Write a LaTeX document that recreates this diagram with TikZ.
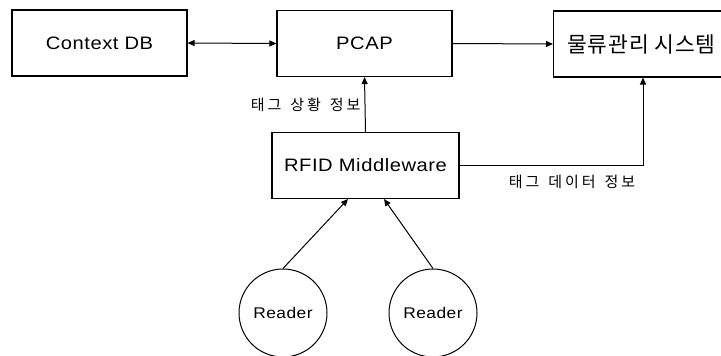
\documentclass[tikz,border=0pt]{standalone}
\usepackage{fontspec}
\setmainfont[FakeStretch=1.12,LetterSpace=3]{Liberation Sans}
\newfontfamily\kr[LetterSpace=4]{Noto Sans CJK KR}
\newfontfamily\krsp[LetterSpace=20,WordSpace=1.4]{Noto Sans CJK KR}
\usetikzlibrary{arrows.meta}
\begin{document}
\begin{tikzpicture}[x=1pt,y=-1pt,
  box/.style={draw,line width=1.1pt,minimum height=66pt,inner sep=0pt,font=\fontsize{18}{20}\selectfont},
  rd/.style={draw,circle,line width=1pt,minimum size=88pt,inner sep=0pt,font=\fontsize{15.5}{17}\selectfont},
  conn/.style={line width=1pt,-{Triangle[length=7pt,width=6pt]}},
  lbl/.style={inner sep=0pt,font=\krsp\fontsize{15}{17}\selectfont}]
\useasboundingbox (0,0) rectangle (721,356);
\node[box,minimum width=175pt] (ctx) at (99.5,43) {Context DB};
\node[box,minimum width=175pt] (pcap) at (364.5,43.5) {PCAP};
\node[box,minimum width=190pt,anchor=west,font=\kr\fontsize{21.5}{23}\selectfont] (lms) at (553,44) {\hspace*{-14pt}물류관리 시스템};
\node[box,minimum width=187pt] (mw) at (365.5,165.5) {RFID Middleware};
\node[rd] (r1) at (283,313) {Reader};
\node[rd] (r2) at (433,313) {Reader};
\draw[line width=1pt,{Triangle[length=7pt,width=6pt]}-{Triangle[length=7pt,width=6pt]}] (ctx.east) -- (pcap.west);
\draw[conn] (pcap.east) -- (lms.west);
\draw[conn] (mw.north) -- (pcap.south) node[pos=0.5,left=4pt,lbl] (l1) {태그 상황 정보};
\coordinate (c1) at (643,165.5);
\draw[conn] (mw.east) -- (c1) -- (lms.south west -| c1);
\node[lbl,anchor=center] (l2) at (572,182) {태그 데이터 정보};
\draw[conn] (r1.north) -- (348,199);
\draw[conn] (r2.north) -- (384,199);
\end{tikzpicture}
\end{document}
